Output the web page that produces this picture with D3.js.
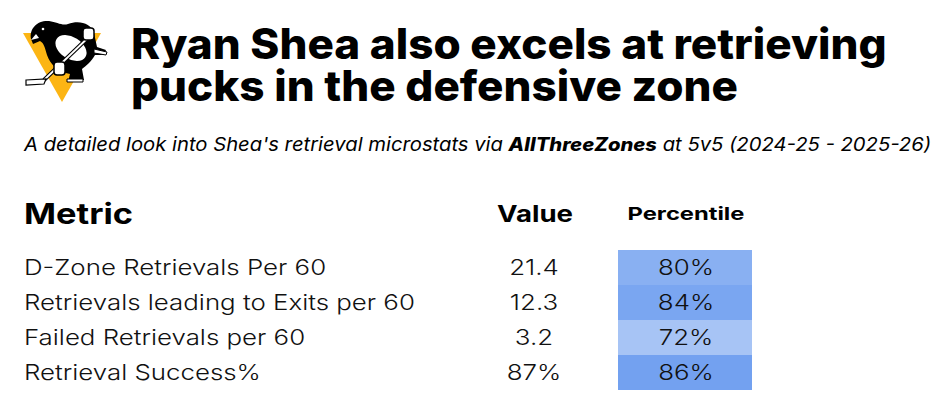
<!DOCTYPE html>
<html>
<head>
<meta charset="utf-8">
<script src="https://cdn.jsdelivr.net/npm/d3@7"></script>
<style>
  html, body { margin: 0; padding: 0; background: #fff; }
  svg { display: block; }
</style>
</head>
<body>
<svg id="chart"></svg>
<script>
// data
const titleLines = ["Ryan Shea also excels at retrieving", "pucks in the defensive zone"];
const headers = ["Metric", "Value", "Percentile"];
const metrics = ["D-Zone Retrievals Per 60", "Retrievals leading to Exits per 60", "Failed Retrievals per 60", "Retrieval Success%"];
const values = ["21.4", "12.3", "3.2", "87%"];
const percentiles = [80, 84, 72, 86];

const W = 943, H = 412;
const font = "Inter, 'Open Sans', sans-serif";

var svg = d3.select("#chart").attr("width", W).attr("height", H);

// stretch text horizontally around its own x
function stretch(sel, f) {
  sel.each(function() {
    var x = +d3.select(this).attr("x");
    d3.select(this).attr("transform", "translate(" + x + ",0) scale(" + f + ",1) translate(" + (-x) + ",0)");
  });
}
function widest(sel) {
  var m = 0;
  sel.each(function() { m = Math.max(m, this.getComputedTextLength()); });
  return m;
}

// logo (rough penguin)
var logo = svg.append("g");
logo.append("path").attr("d", "M23,33 L101,33 L62,102 Z").attr("fill", "#fcb514");
logo.append("path")
  .attr("d", "M31,39 C29,28 38,20 49,21 C57,22 62,26 68,24 C79,20 91,23 94,33 L97,47 L106,50 L104,55 L95,55 C91,62 86,66 82,69 L84,80 L68,82 L70,74 C58,72 50,64 47,55 C45,48 44,43 40,41 L33,44 Z")
  .attr("fill", "#000");
logo.append("ellipse").attr("cx", 71).attr("cy", 48).attr("rx", 17).attr("ry", 11)
  .attr("transform", "rotate(32,71,48)").attr("fill", "#fff");
logo.append("path").attr("d", "M36,34 L31,40 L39,38 Z").attr("fill", "#fff");
logo.append("circle").attr("cx", 43).attr("cy", 29).attr("r", 1.3).attr("fill", "#fff");
// skates
logo.append("path").attr("d", "M94,49 L107,52 L106,55 L94,53 Z").attr("fill", "#fff").attr("stroke", "#000").attr("stroke-width", 1);
logo.append("path").attr("d", "M67,79 L83,79 L83,82 L67,82 Z").attr("fill", "#fff").attr("stroke", "#000").attr("stroke-width", 1);
// stick
logo.append("line").attr("x1", 44).attr("y1", 80).attr("x2", 93).attr("y2", 33)
  .attr("stroke", "#000").attr("stroke-width", 4);
logo.append("line").attr("x1", 44).attr("y1", 80).attr("x2", 93).attr("y2", 33)
  .attr("stroke", "#fff").attr("stroke-width", 1.8);
logo.append("path").attr("d", "M26,80 L46,79 L44,84 L26,85 Z").attr("fill", "#fff").attr("stroke", "#000").attr("stroke-width", 1.2);
// gloves
logo.append("rect").attr("x", 83).attr("y", 28).attr("width", 11).attr("height", 12).attr("rx", 3)
  .attr("fill", "#fff").attr("stroke", "#000").attr("stroke-width", 1.5);
logo.append("rect").attr("x", 54).attr("y", 62).attr("width", 11).attr("height", 13).attr("rx", 3)
  .attr("fill", "#fff").attr("stroke", "#000").attr("stroke-width", 1.5);

// title
var title = svg.append("g").selectAll("text")
  .data(titleLines)
  .join("text")
  .attr("x", 131)
  .attr("y", (d, i) => 59 + i * 42)
  .attr("font-family", font)
  .attr("font-weight", 800)
  .attr("font-size", 42)
  .attr("fill", "#000")
  .text(d => d);
stretch(title, 756 / widest(title.filter((d, i) => i == 0)));

// subtitle
var sub = svg.append("text")
  .attr("x", 24).attr("y", 151)
  .attr("font-family", font)
  .attr("font-style", "italic")
  .attr("font-size", 18.5)
  .attr("fill", "#000");
sub.append("tspan").text("A detailed look into Shea's retrieval microstats via ");
sub.append("tspan").attr("font-weight", 800).text("AllThreeZones");
sub.append("tspan").text(" at 5v5 (2024-25 - 2025-26)");
stretch(sub, 908 / sub.node().getComputedTextLength());

// table
var y = d3.scaleBand().domain(d3.range(metrics.length)).range([250, 390]).padding(0);
var color = d3.scaleLinear().domain([72, 86]).range(["#a7c4f5", "#73a1f0"]);

var cols = [
  { x: 24, anchor: "start", size: 29, w: 109, base: 224 },
  { x: 535, anchor: "middle", size: 23, w: 76, base: 222 },
  { x: 686, anchor: "middle", size: 18, w: 117, base: 220 }
];
svg.append("g").selectAll("text")
  .data(headers)
  .join("text")
  .attr("x", (d, i) => cols[i].x)
  .attr("y", (d, i) => cols[i].base)
  .attr("text-anchor", (d, i) => cols[i].anchor)
  .attr("font-family", font)
  .attr("font-weight", 700)
  .attr("font-size", (d, i) => cols[i].size)
  .attr("fill", "#000")
  .text(d => d)
  .each(function(d, i) { stretch(d3.select(this), cols[i].w / this.getComputedTextLength()); });

svg.append("g").selectAll("rect")
  .data(percentiles)
  .join("rect")
  .attr("x", 618)
  .attr("y", (d, i) => y(i))
  .attr("width", 134)
  .attr("height", y.bandwidth())
  .attr("fill", d => color(d));

var rowText = function(arr, x, anchor) {
  return svg.append("g").selectAll("text")
    .data(arr)
    .join("text")
    .attr("x", x)
    .attr("y", (d, i) => y(i) + y.bandwidth() / 2)
    .attr("dy", "0.36em")
    .attr("text-anchor", anchor)
    .attr("font-family", font)
    .attr("font-weight", 300)
    .attr("font-size", 22)
    .attr("fill", "#111")
    .text(d => d);
};
var mt = rowText(metrics, 24, "start");
var f = 391 / widest(mt);
stretch(mt, f);
stretch(rowText(values, 534, "middle"), f);
stretch(rowText(percentiles.map(d => d + "%"), 686, "middle"), f);
</script>
</body>
</html>
